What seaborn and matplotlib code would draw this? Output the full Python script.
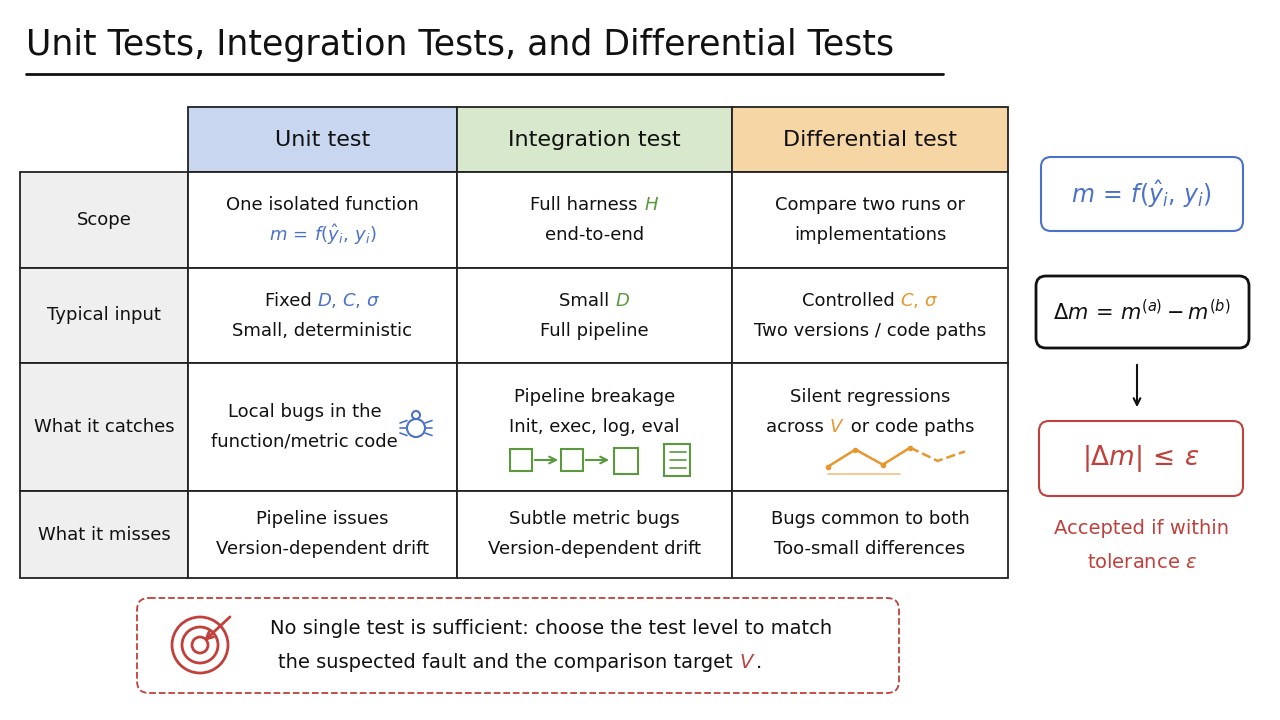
import numpy as np
import seaborn as sns
import matplotlib.pyplot as plt
from matplotlib.patches import Rectangle, FancyBboxPatch, Circle

sns.set_theme(style="white")
plt.rcParams['font.family'] = ['DejaVu Sans']

BLUE, GREEN, ORANGE, RED, INK = "#4a72c8", "#5a9a3c", "#e8962e", "#c0403c", "#111111"

title = "Unit Tests, Integration Tests, and Differential Tests"
col_heads = ["Unit test", "Integration test", "Differential test"]
head_colors = ["#c8d6f0", "#d8e8cc", "#f7d6a6"]
row_heads = ["Scope", "Typical input", "What it catches", "What it misses"]
# each cell: list of lines, each line a list of (text, colour key) segments
cells = [
    [[[("One isolated function", "k")], [(r"$m\,=\,f(\hat{y}_i,\,y_i)$", "b")]],
     [[("Full harness ", "k"), ("$H$", "g")], [("end-to-end", "k")]],
     [[("Compare two runs or", "k")], [("implementations", "k")]]],
    [[[("Fixed ", "k"), ("$D$, $C$, $\\sigma$", "b")], [("Small, deterministic", "k")]],
     [[("Small ", "k"), ("$D$", "g")], [("Full pipeline", "k")]],
     [[("Controlled ", "k"), ("$C$, $\\sigma$", "o")], [("Two versions / code paths", "k")]]],
    [[[("Local bugs in the", "k")], [("function/metric code", "k")]],
     [[("Pipeline breakage", "k")], [("Init, exec, log, eval", "k")]],
     [[("Silent regressions", "k")], [("across ", "k"), ("$V$", "o"), (" or code paths", "k")]]],
    [[[("Pipeline issues", "k")], [("Version-dependent drift", "k")]],
     [[("Subtle metric bugs", "k")], [("Version-dependent drift", "k")]],
     [[("Bugs common to both", "k")], [("Too-small differences", "k")]]],
]
palette = {"k": INK, "b": BLUE, "g": GREEN, "o": ORANGE, "r": RED}
trend = [0.3, 0.75, 0.35, 0.8, 0.45, 0.7]

xs = [20, 188, 457, 732, 1008]
ys = [107, 172, 268, 363, 491, 578]

fig = plt.figure(figsize=(12.8, 7.2), dpi=100)
ax = fig.add_axes([0, 0, 1, 1])
ax.set_xlim(0, 1280); ax.set_ylim(720, 0); ax.axis("off")
renderer = fig.canvas.get_renderer()


def seg_line(cx, cy, segs, size=13, ha="center"):
    # measure segments, then place them left to right
    texts = [ax.text(0, cy, t, fontsize=size, va="center", color=palette[c]) for t, c in segs]
    widths = []
    for t in texts:
        bb = t.get_window_extent(renderer)
        widths.append(bb.width)
    total = sum(widths)
    x = cx - total / 2 if ha == "center" else cx
    for t, w in zip(texts, widths):
        t.set_x(x)
        x += w


ax.text(26, 45, title, fontsize=25, va="center", color=INK)
ax.plot([26, 943], [74, 74], color=INK, lw=2)

for j, (h, c) in enumerate(zip(col_heads, head_colors)):
    ax.add_patch(Rectangle((xs[j+1], ys[0]), xs[j+2]-xs[j+1], ys[1]-ys[0], fc=c, ec="#222", lw=1.3))
    ax.text((xs[j+1]+xs[j+2])/2, (ys[0]+ys[1])/2, h, fontsize=16, ha="center", va="center", color=INK)

for i, r in enumerate(row_heads):
    y0, y1 = ys[i+1], ys[i+2]
    ax.add_patch(Rectangle((xs[0], y0), xs[1]-xs[0], y1-y0, fc="#efefef", ec="#222", lw=1.3))
    ax.text((xs[0]+xs[1])/2, (y0+y1)/2, r, fontsize=13, ha="center", va="center", color=INK)
    for j in range(3):
        x0, x1 = xs[j+1], xs[j+2]
        ax.add_patch(Rectangle((x0, y0), x1-x0, y1-y0, fc="white", ec="#222", lw=1.3))
        cx = (x0 + x1) / 2 - (18 if (i, j) == (2, 0) else 0)
        cy = (y0 + y1) / 2 - (15 if i == 2 and j > 0 else 0)
        for k, segs in enumerate(cells[i][j]):
            seg_line(cx, cy + (k - 0.5) * 30, segs)

# bug icon
ax.add_patch(Circle((416, 428), 9, fc="none", ec=BLUE, lw=1.5))
ax.add_patch(Circle((416, 415), 4, fc="none", ec=BLUE, lw=1.5))
for dy in [-5, 0, 5]:
    ax.plot([400, 407], [428 + dy, 428 + dy * 1.5], color=BLUE, lw=1.2)
    ax.plot([425, 432], [428 + dy, 428 + dy * 1.5], color=BLUE, lw=1.2)
# pipeline icon
for bx in [510, 561]:
    ax.add_patch(Rectangle((bx, 449), 22, 22, fc="none", ec=GREEN, lw=1.5))
for a, b in [(532, 561), (583, 612)]:
    ax.annotate("", xy=(b, 460), xytext=(a, 460), arrowprops=dict(arrowstyle="->", color=GREEN, lw=1.5))
ax.add_patch(Rectangle((614, 448), 24, 26, fc="none", ec=GREEN, lw=1.5))
ax.add_patch(Rectangle((664, 444), 26, 32, fc="none", ec=GREEN, lw=1.5))
for yy in [452, 460, 468]:
    ax.plot([670, 686], [yy, yy], color=GREEN, lw=1.2)
# trend icon
tx = np.linspace(828, 965, len(trend))
ty = [478 - 38 * v for v in trend]
ax.plot(tx[:4], ty[:4], color=ORANGE, lw=1.8, marker="o", ms=3)
ax.plot(tx[3:], ty[3:], color=ORANGE, lw=1.8, ls="--")
ax.plot([828, 900], [474, 474], color=ORANGE, lw=1.2, alpha=0.6)

# right side
ax.add_patch(FancyBboxPatch((1041, 157), 202, 74, boxstyle="round,pad=0,rounding_size=10", fc="white", ec=BLUE, lw=1.5))
ax.text(1142, 194, r"$m\,=\,f(\hat{y}_i,\,y_i)$", fontsize=17, ha="center", va="center", color=BLUE)
ax.add_patch(FancyBboxPatch((1036, 276), 213, 72, boxstyle="round,pad=0,rounding_size=10", fc="white", ec=INK, lw=2))
ax.text(1142, 312, r"$\Delta m\,=\,m^{(a)}-m^{(b)}$", fontsize=15, ha="center", va="center", color=INK)
ax.annotate("", xy=(1137, 410), xytext=(1137, 362), arrowprops=dict(arrowstyle="->", color=INK, lw=1.5))
ax.add_patch(FancyBboxPatch((1039, 421), 204, 75, boxstyle="round,pad=0,rounding_size=10", fc="white", ec=RED, lw=1.5))
ax.text(1141, 459, r"$|\Delta m|\,\leq\,\varepsilon$", fontsize=19, ha="center", va="center", color=RED)
ax.text(1142, 528, "Accepted if within", fontsize=14, ha="center", va="center", color=RED)
ax.text(1142, 563, r"tolerance $\varepsilon$", fontsize=14, ha="center", va="center", color=RED)

# bottom note
ax.add_patch(FancyBboxPatch((137, 598), 762, 95, boxstyle="round,pad=0,rounding_size=12", fc="white", ec=RED, lw=1.3, ls="--"))
for rr in [28, 18, 8]:
    ax.add_patch(Circle((200, 645), rr, fc="none", ec=RED, lw=2))
ax.annotate("", xy=(202, 643), xytext=(232, 615), arrowprops=dict(arrowstyle="->", color=RED, lw=2))
seg_line(270, 629, [("No single test is sufficient: choose the test level to match", "k")], size=14, ha="left")
seg_line(278, 662, [("the suspected fault and the comparison target ", "k"), ("$V$", "r"), (".", "k")], size=14, ha="left")

fig.savefig("out.png", dpi=100, facecolor="white")
